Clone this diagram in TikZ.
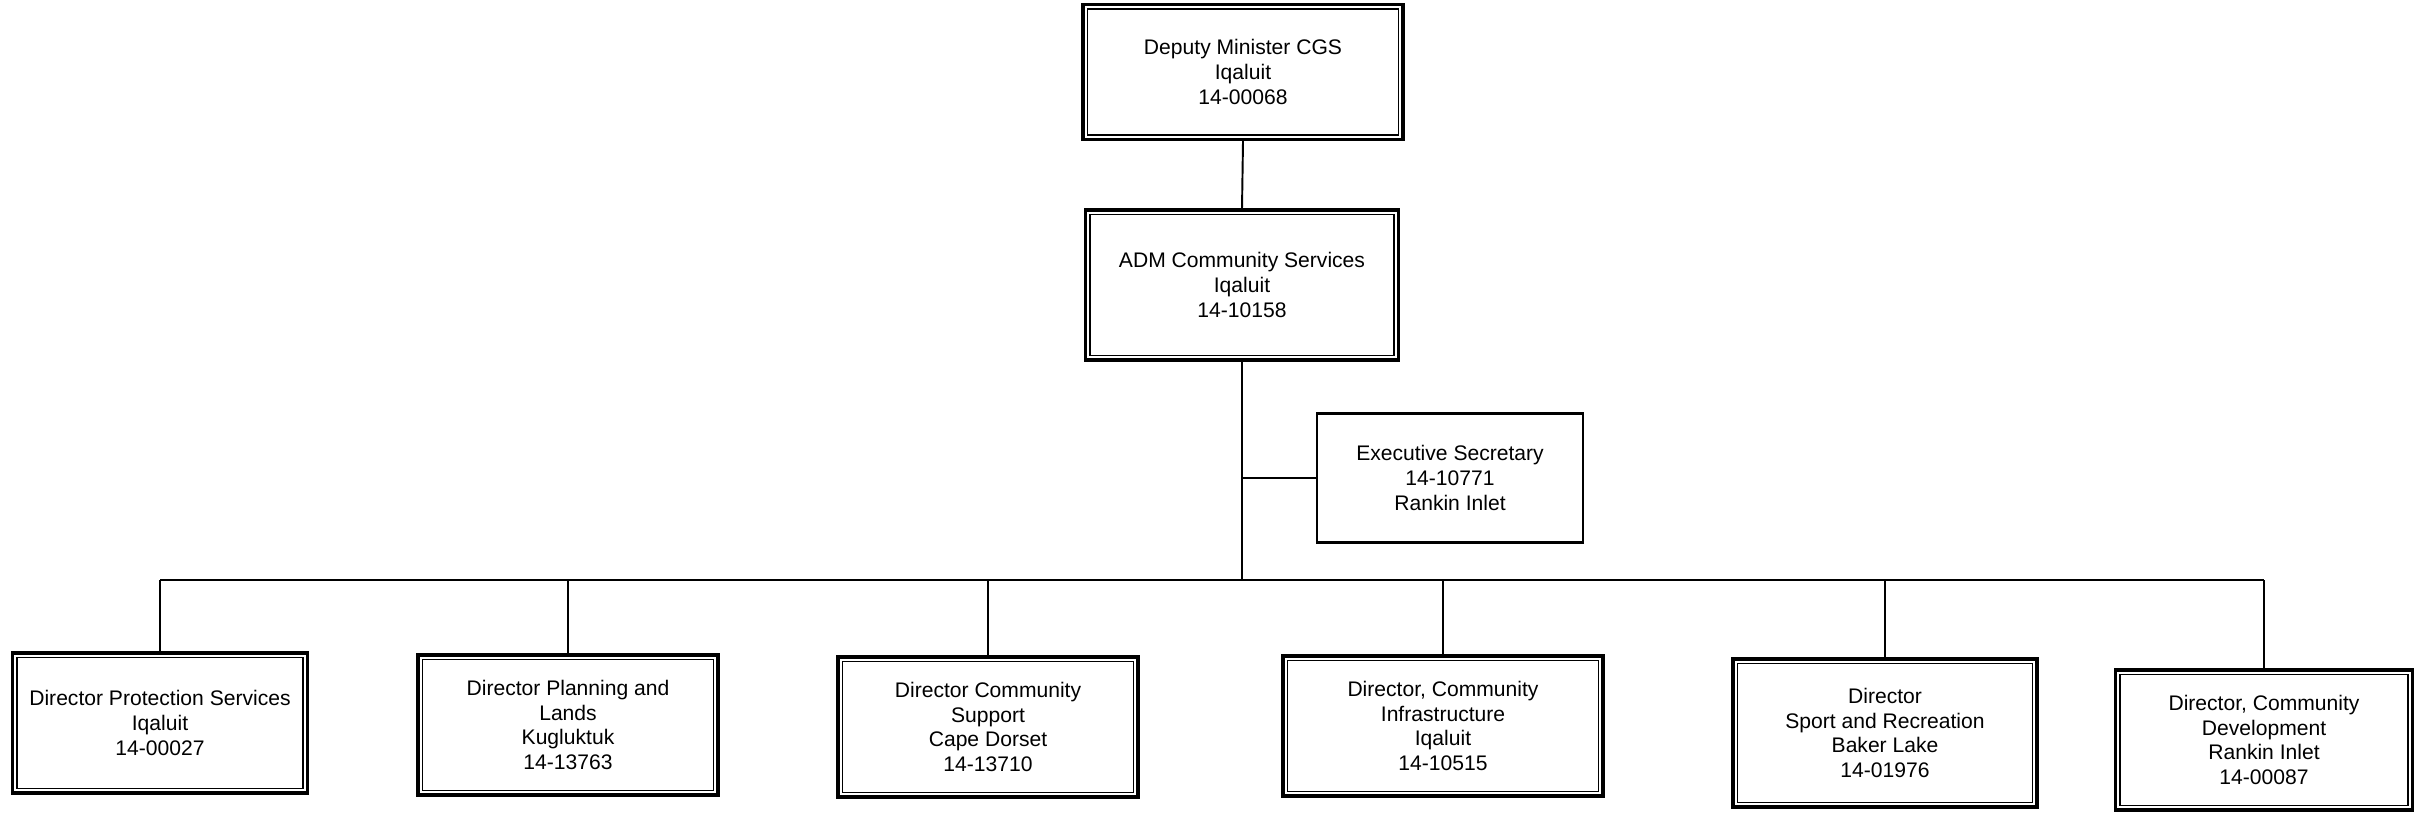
\documentclass[tikz,border=0pt]{standalone}
\usepackage{fontspec}
\setmainfont{Liberation Sans}
\usetikzlibrary{positioning}

\tikzset{
  caja/.style={draw, line width=1.8pt, align=center, inner sep=2pt,
    font=\fontsize{12}{14}\selectfont},
  interior/.style={line width=0.9pt},
  linea/.style={line width=1.1pt},
  dirbox/.style={caja, minimum width=60mm, minimum height=28mm}
}

\begin{document}
\begin{tikzpicture}[x=0.2mm, y=-0.2mm]
  % Marco
  \useasboundingbox (0,0) rectangle (2422,816);

  % Nivel superior
  \node[caja, minimum width=64mm, minimum height=27mm] (dm) at (1243,72)
    {Deputy Minister CGS\\Iqaluit\\14-00068};
  \node[caja, minimum width=62.6mm, minimum height=30mm] (adm) at (1242,285)
    {ADM Community Services\\Iqaluit\\14-10158};

  % Secretaria
  \node[draw, line width=1.4pt, align=center, font=\fontsize{12}{14}\selectfont,
    minimum width=53.2mm, minimum height=25.8mm] (es) at (1450,478)
    {Executive Secretary\\14-10771\\Rankin Inlet};

  % Directores
  \node[dirbox, minimum width=59mm] (d1) at (160,723)
    {Director Protection Services\\Iqaluit\\14-00027};
  \node[dirbox] (d2) at (568,725)
    {Director Planning and\\Lands\\Kugluktuk\\14-13763};
  \node[dirbox] (d3) at (988,727)
    {Director Community\\Support\\Cape Dorset\\14-13710};
  \node[dirbox, minimum width=64mm] (d4) at (1443,726)
    {Director, Community\\Infrastructure\\Iqaluit\\14-10515};
  \node[dirbox, minimum width=60.8mm, minimum height=29.6mm] (d5) at (1885,733)
    {Director\\Sport and Recreation\\Baker Lake\\14-01976};
  \node[dirbox, minimum width=59.4mm] (d6) at (2264,740)
    {Director, Community\\Development\\Rankin Inlet\\14-00087};

  % Doble borde
  \foreach \n in {dm,adm,d1,d2,d3,d4,d5,d6}
    \draw[interior] ([shift={(3.4pt,-3.4pt)}]\n.north west)
      rectangle ([shift={(-3.4pt,3.4pt)}]\n.south east);

  % Conectores
  \coordinate (bus) at (1242,580);
  \draw[linea] (dm.south) -- (adm.north);
  \draw[linea] (adm.south) -- (bus);
  \draw[linea] (es.west) -- (es.west -| adm.south);
  \draw[linea] (bus -| d1.north) -- (bus -| d6.north);
  \foreach \n in {d1,d2,d3,d4,d5,d6}
    \draw[linea] (bus -| \n.north) -- (\n.north);
\end{tikzpicture}
\end{document}
